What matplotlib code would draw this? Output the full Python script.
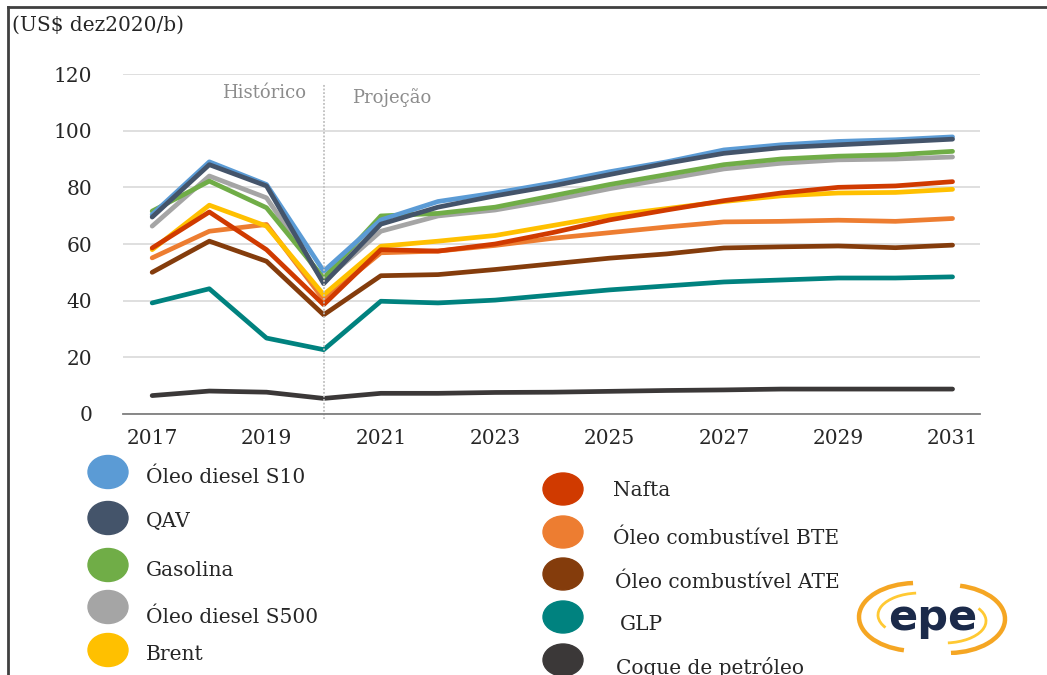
import numpy as np
import matplotlib.pyplot as plt
from matplotlib.patches import Ellipse, Arc
from matplotlib.lines import Line2D

anos = list(range(2017, 2032))

series = {
    'Coque de petróleo': [6.5, 8.1, 7.7, 5.5, 7.3, 7.3, 7.6, 7.7, 8.0, 8.3, 8.5, 8.8, 8.8, 8.8, 8.8],
    'GLP': [39.2, 44.2, 26.8, 22.7, 39.8, 39.2, 40.2, 42.0, 43.8, 45.2, 46.6, 47.3, 48.0, 48.0, 48.4],
    'Óleo combustível ATE': [50.0, 61.0, 53.9, 35.0, 48.8, 49.2, 51.0, 53.0, 55.0, 56.5, 58.6, 59.0, 59.3, 58.7, 59.6],
    'Óleo combustível BTE': [55.1, 64.5, 66.9, 40.4, 56.9, 57.5, 59.5, 62.0, 64.0, 66.0, 67.8, 68.0, 68.4, 68.0, 69.0],
    'Brent': [58.0, 73.7, 66.3, 42.1, 59.2, 61.0, 63.0, 66.5, 70.0, 72.5, 75.0, 77.0, 78.0, 78.2, 79.3],
    'Nafta': [58.6, 71.3, 58.0, 38.6, 58.0, 57.5, 60.0, 64.0, 68.5, 72.0, 75.3, 78.0, 80.0, 80.5, 82.0],
    'Óleo diesel S500': [66.3, 84.0, 76.3, 46.8, 64.5, 69.9, 72.0, 75.5, 79.5, 83.0, 86.5, 88.5, 89.7, 90.0, 90.7],
    'Gasolina': [71.6, 82.2, 72.8, 48.0, 69.9, 70.8, 73.0, 77.0, 81.0, 84.5, 88.0, 90.0, 91.0, 91.5, 92.7],
    'Óleo diesel S10': [70.4, 89.0, 81.0, 50.4, 68.5, 75.0, 78.0, 81.5, 85.5, 89.0, 93.2, 95.0, 96.2, 96.8, 97.8],
    'QAV': [69.5, 88.0, 80.5, 46.0, 67.0, 73.0, 77.0, 80.5, 84.5, 88.5, 92.0, 94.0, 95.0, 96.0, 97.0],
}

cores = {
    'Óleo diesel S10': '#5B9BD5',
    'QAV': '#44546A',
    'Gasolina': '#70AD47',
    'Óleo diesel S500': '#A5A5A5',
    'Brent': '#FFC000',
    'Nafta': '#D03A00',
    'Óleo combustível BTE': '#ED7D31',
    'Óleo combustível ATE': '#843C0C',
    'GLP': '#00827F',
    'Coque de petróleo': '#3B3838',
}

leg_esq = ['Óleo diesel S10', 'QAV', 'Gasolina', 'Óleo diesel S500', 'Brent']
leg_dir = ['Nafta', 'Óleo combustível BTE', 'Óleo combustível ATE', 'GLP', 'Coque de petróleo']

W, H = 1047, 675
fig = plt.figure(figsize=(W / 100, H / 100), dpi=100)

def fx(px):
    return px / W

def fy(py):
    return 1 - py / H

ax = fig.add_axes([fx(123), fy(414), fx(980) - fx(123), fy(74) - fy(414)])
for nome, vals in series.items():
    ax.plot(anos, vals, color=cores[nome], lw=3.4, solid_capstyle='round', solid_joinstyle='round')

ax.set_xlim(2016.49, 2031.48)
ax.set_ylim(0, 120)
ax.set_yticks(range(0, 121, 20))
ax.set_xticks(range(2017, 2032, 2))
ax.grid(axis='y', color='#d9d9d9', lw=1.2)
ax.set_axisbelow(True)
for s in ['top', 'right', 'left']:
    ax.spines[s].set_visible(False)
ax.spines['bottom'].set_color('#7f7f7f')
ax.spines['bottom'].set_linewidth(1.3)
ax.tick_params(length=0, labelsize=14.5, colors='#262626', labelfontfamily='DejaVu Serif')
ax.tick_params(axis='y', pad=22)
ax.tick_params(axis='x', pad=11)

ax.axvline(2020, ymin=-0.015, ymax=0.97, color='#bfbfbf', lw=1.3, ls=(0, (1, 1)), clip_on=False)
ax.text(2019.7, 113.2, 'Histórico', ha='right', va='center', color='#8c8c8c', fontsize=13, family='DejaVu Serif')
ax.text(2020.5, 111.8, 'Projeção', ha='left', va='center', color='#8c8c8c', fontsize=13, family='DejaVu Serif')

fig.text(fx(12), fy(25), '(US$ dez2020/b)', ha='left', va='center', fontsize=14.5, family='DejaVu Serif', color='#262626')

# moldura
fig.add_artist(Line2D([fx(8), 1], [fy(7), fy(7)], color='#404040', lw=2))
fig.add_artist(Line2D([fx(8), fx(8)], [fy(7), 0], color='#404040', lw=2))

# legenda
ys_esq = [472, 518, 565, 607, 650]
yt_esq = [477, 522, 570, 617, 655]
for nome, ye, yt in zip(leg_esq, ys_esq, yt_esq):
    fig.add_artist(Ellipse((fx(108), fy(ye)), fx(40), 33 / H, color=cores[nome]))
    fig.text(fx(146), fy(yt), nome, ha='left', va='center', fontsize=14.5, family='DejaVu Serif', color='#262626')

ys_dir = [489, 532, 574, 617, 660]
yt_dir = [490, 538, 582, 625, 667]
xt_dir = [613, 613, 615, 620, 616]
for nome, ye, yt, xt in zip(leg_dir, ys_dir, yt_dir, xt_dir):
    fig.add_artist(Ellipse((fx(563), fy(ye)), fx(40), 32 / H, color=cores[nome]))
    fig.text(fx(xt), fy(yt), nome, ha='left', va='center', fontsize=14.5, family='DejaVu Serif', color='#262626')

# logo epe
lg = fig.add_axes([fx(852), fy(655), fx(160), 75 / H])
lg.set_xlim(0, 160)
lg.set_ylim(0, 75)
lg.axis('off')
lg.add_patch(Arc((64, 38), 114, 68, theta1=95, theta2=250, color='#F5A623', lw=3.2))
lg.add_patch(Arc((68, 40), 84, 44, theta1=100, theta2=200, color='#FFC933', lw=2))
lg.add_patch(Arc((96, 36), 114, 68, theta1=-85, theta2=70, color='#F5A623', lw=3.2))
lg.add_patch(Arc((92, 34), 84, 44, theta1=-80, theta2=20, color='#FFC933', lw=2))
lg.text(81, 37, 'epe', ha='center', va='center', fontsize=31, fontweight='bold', family='DejaVu Sans', color='#1B2A4A')

fig.savefig('out.png', dpi=100)
